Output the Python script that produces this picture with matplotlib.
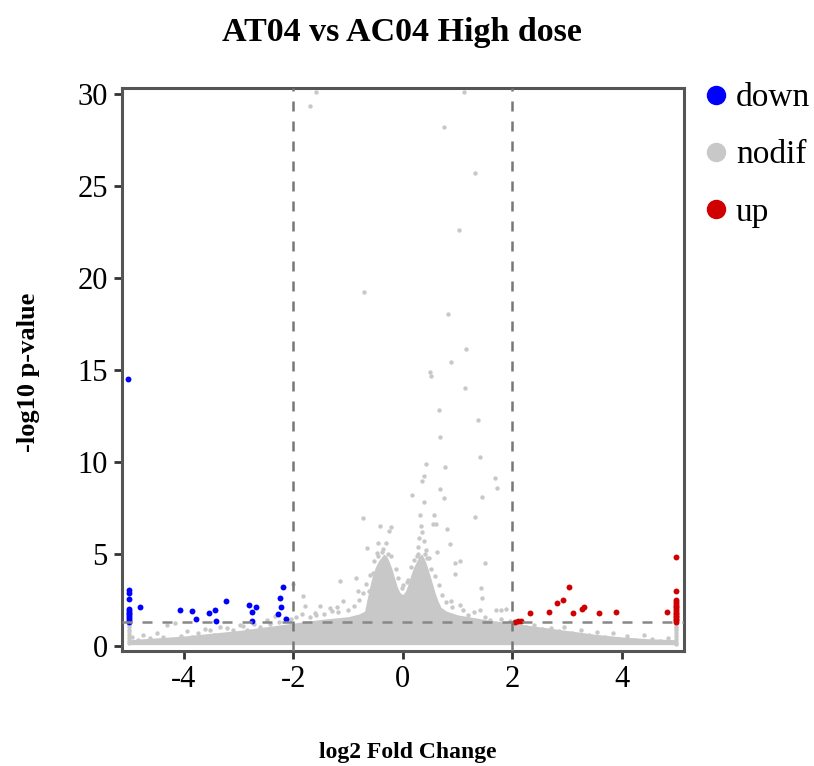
import matplotlib
matplotlib.use("Agg")
import matplotlib.pyplot as plt
from matplotlib.lines import Line2D

# ---- data ----
# dense core of the non-significant cloud (upper edge of the solid gray area)
cloud_x = [-5.0, -4.5, -4.0, -3.5, -3.0, -2.5, -2.0, -1.5, -1.0, -0.8, -0.7, -0.65, -0.6,
           -0.55, -0.5, -0.45, -0.4, -0.35, -0.3, -0.25, -0.2, -0.15, -0.1, -0.05, 0.0, 0.05,
           0.1, 0.15, 0.2, 0.25, 0.3, 0.35, 0.4, 0.45, 0.5, 0.55, 0.6, 0.65, 0.7, 0.8, 1.0,
           1.5, 2.0, 2.5, 3.0, 3.5, 4.0, 4.5, 5.0]
cloud_top = [0.35, 0.45, 0.55, 0.7, 0.85, 1.05, 1.25, 1.45, 1.6, 1.75, 1.9, 2.6, 3.3,
             3.9, 4.3, 4.6, 4.8, 5.0, 4.9, 4.6, 4.2, 3.7, 3.2, 2.9, 2.8, 3.0,
             3.4, 3.9, 4.3, 4.6, 4.9, 5.0, 4.7, 4.3, 3.8, 3.3, 2.8, 2.4, 2.1, 1.9, 1.7,
             1.45, 1.25, 1.05, 0.85, 0.65, 0.5, 0.4, 0.35]

# individual nodif points
nodif_x = [-1.58, -1.70, 1.11, 0.75, 1.31, -0.71, 1.02, 0.83, 1.15, 0.88, 0.49, 0.51, 1.13,
           0.66, 1.37, 0.68, 1.41, 0.43, 0.77, 0.39, 0.35, 1.68, 1.72, 0.68, 0.17, 0.76, 1.44,
           0.39, 0.31, 0.57, 1.32, 0.55, 0.60, 0.80, 0.87, 0.63, 0.95, 1.04, 0.95, 1.50, 1.42,
           1.45, 0.88, 1.04, 1.41, 1.71, 1.79, 1.89, 0.07, -0.72, -0.41, -0.21, -0.25, -0.66,
           -0.45, -0.30, -0.48, -0.39, -0.86, -1.14, -0.60, -0.82, -0.62, -1.83, -1.79, -1.52,
           -1.33, -1.09, -1.18, -1.59, -2.0, -0.02,
           0.33, 0.35, 0.30, 0.38, 0.28, 0.40, 0.25, 0.44,
           -4.95, -4.85, -4.75, -4.62, -4.5, -4.38, -4.32, -4.16, -4.05, -3.95, -3.85, -3.74,
           -3.62, -3.53, -3.45, -3.35, -3.22, -3.1, -2.98, -2.92, -2.85, -2.73, -2.62, -2.49,
           -2.42, -2.34, -2.26, -2.15, -2.05, -1.95, -1.85, -1.7, -1.6, -1.45, -1.3, -1.2,
           -1.0, -0.9, -0.8, -0.72, -0.68, -0.55, -0.52, -0.45, -0.36, -0.28, -0.22, -0.12,
           -0.08, 0.0, 0.1, 0.15, 0.2, 0.27, 0.42, 0.47, 0.52, 0.58, 0.66, 0.72, 0.78, 0.9,
           1.1, 1.2, 1.3, 1.5, 1.6, 1.8, 1.95, 2.1, 2.25, 2.4, 2.55, 2.7, 2.85, 2.95, 3.1,
           3.25, 3.4, 3.55, 3.7, 3.85, 3.95, 4.1, 4.25, 4.4, 4.55, 4.7, 4.85,
           -5.0, -5.0, -5.0, -5.0, -5.0, -5.0, -5.0, -5.0, -5.0,
           5.0, 5.0, 5.0, 5.0, 5.0, 5.0, 5.0, 5.0, 5.0, 5.0]
nodif_y = [30.1, 29.35, 30.1, 28.2, 25.7, 19.26, 22.6, 18.03, 16.14, 15.43, 14.91, 14.69, 14.04,
           12.83, 12.28, 11.38, 10.25, 9.89, 9.73, 9.26, 8.98, 9.11, 8.6, 8.53, 8.21, 8.03, 8.1,
           7.81, 7.14, 7.14, 7.03, 6.63, 6.63, 6.38, 5.54, 5.11, 4.53, 4.62, 3.91, 4.53, 3.15,
           2.63, 2.45, 2.26, 1.99, 1.95, 1.98, 2.0, 3.49, 6.94, 6.52, 6.48, 6.25, 5.31,
           5.58, 5.58, 5.05, 5.12, 3.71, 3.53, 3.86, 2.99, 2.99, 2.73, 2.19, 2.17,
           2.08, 2.45, 1.86, 1.68, 3.37, 3.14,
           6.5, 6.2, 5.9, 5.7, 5.4, 5.0, 4.9, 4.8,
           0.5, 0.35, 0.6, 0.45, 0.7, 0.5, 1.15, 1.25, 0.55, 0.8, 0.5, 0.7,
           0.95, 0.9, 0.6, 1.05, 1.0, 0.85, 1.15, 1.1, 0.9, 1.2, 1.05, 1.4,
           1.2, 1.65, 1.3, 1.55, 1.45, 1.6, 1.75, 1.6, 1.8, 1.75, 1.9, 2.1,
           1.95, 2.2, 2.5, 2.9, 3.4, 4.0, 4.6, 4.9, 5.3, 5.0, 4.9, 4.2,
           3.7, 3.3, 3.6, 4.3, 4.7, 5.0, 5.2, 4.8, 4.2, 3.8, 3.3, 2.8, 2.4, 2.1,
           1.95, 1.7, 1.85, 1.6, 1.4, 1.5, 1.35, 1.2, 1.05, 1.15, 0.95, 1.0, 0.8, 1.05, 0.7,
           0.9, 0.6, 0.75, 0.5, 0.7, 0.4, 0.55, 0.35, 0.6, 0.4, 0.3, 0.45,
           0.15, 0.3, 0.45, 0.6, 0.75, 0.9, 1.05, 1.15, 1.25,
           0.1, 0.25, 0.4, 0.55, 0.7, 0.85, 1.0, 1.1, 1.25, 1.4]

# down-regulated
down_x = [-5.02, -5.0, -5.0, -5.0, -5.0, -5.0, -5.0, -5.0, -5.0, -5.0, -5.0, -5.0,
          -4.80, -4.07, -3.85, -3.79, -3.54, -3.43, -3.42, -3.24, -2.82, -2.68, -2.76, -2.75,
          -2.20, -2.24, -2.23, -2.28, -2.13]
down_y = [14.49, 3.04, 2.86, 2.54, 1.32, 1.42, 1.52, 1.62, 1.72, 1.82, 1.92, 2.02,
          2.10, 1.99, 1.92, 1.45, 1.78, 1.99, 1.36, 2.46, 2.24, 2.10, 1.83, 1.36,
          3.22, 2.59, 2.10, 1.72, 1.47]

# up-regulated
up_x = [2.05, 2.11, 2.16, 2.32, 2.68, 2.81, 2.93, 3.04, 3.11, 3.27, 3.31, 3.59, 3.90, 4.83,
        4.99, 4.99, 4.99, 4.99, 4.99, 4.99, 4.99, 4.99, 4.99, 4.99, 4.99, 4.99, 4.99, 4.99,
        4.99, 4.99]
up_y = [1.32, 1.36, 1.38, 1.78, 1.83, 2.32, 2.5, 3.22, 1.78, 2.01, 2.10, 1.78, 1.85, 1.85,
        4.85, 3.0, 1.32, 1.4, 1.48, 1.56, 1.64, 1.72, 1.8, 1.9, 2.0, 2.1, 2.2, 2.3, 2.4, 2.5]

fc_cut = 2
p_cut = 1.301

c_down = '#0000ff'
c_nodif = '#c8c8c8'
c_up = '#d00000'

plt.rcParams['font.family'] = ['Liberation Serif', 'DejaVu Serif']
plt.rcParams['axes.unicode_minus'] = False

fig = plt.figure(figsize=(8.14, 7.66), dpi=100)
ax = fig.add_axes([0.1495, 0.150, 0.6908, 0.7346])

ax.fill_between(cloud_x, 0.08, cloud_top, color=c_nodif, lw=0, zorder=1)
ax.scatter(nodif_x, nodif_y, s=10, color=c_nodif, lw=0, zorder=2)
ax.scatter(down_x, down_y, s=18, color=c_down, lw=0, zorder=3)
ax.scatter(up_x, up_y, s=18, color=c_up, lw=0, zorder=3)

for v in (-fc_cut, fc_cut):
    ax.axvline(v, color='#777777', lw=1.8, ls=(0, (4, 4)), zorder=4)
ax.axhline(p_cut, color='#888888', lw=1.8, ls=(0, (4, 4)), zorder=4)

ax.set_xlim(-5.14, 5.14)
ax.set_ylim(-0.27, 30.3)
ax.set_xticks([-4, -2, 0, 2, 4])
ax.set_yticks([0, 5, 10, 15, 20, 25, 30])
ax.tick_params(labelsize=22, length=6, width=2, color='#333333', pad=4)
for s in ax.spines.values():
    s.set_color('#555555')
    s.set_linewidth(2.2)

ax.set_xlabel('log2 Fold Change', fontsize=17, fontweight='bold')
ax.set_ylabel('-log10 p-value', fontsize=19, fontweight='bold')
ax.xaxis.set_label_coords(0.509, -0.162)
ax.yaxis.set_label_coords(-0.145, 0.496)

fig.text(0.494, 0.958, 'AT04 vs AC04 High dose', ha='center', va='center',
         fontsize=24.5, fontweight='bold')

handles = [Line2D([], [], ls='', marker='o', ms=13, color=c, label=l)
           for c, l in ((c_down, 'down'), (c_nodif, 'nodif'), (c_up, 'up'))]
ax.legend(handles=handles, loc='upper left', bbox_to_anchor=(1.039, 1.01), frameon=False,
          fontsize=24, handlelength=0.6, handletextpad=0.3, labelspacing=0.8,
          borderaxespad=0, borderpad=0)

plt.savefig('out.png', dpi=100)
